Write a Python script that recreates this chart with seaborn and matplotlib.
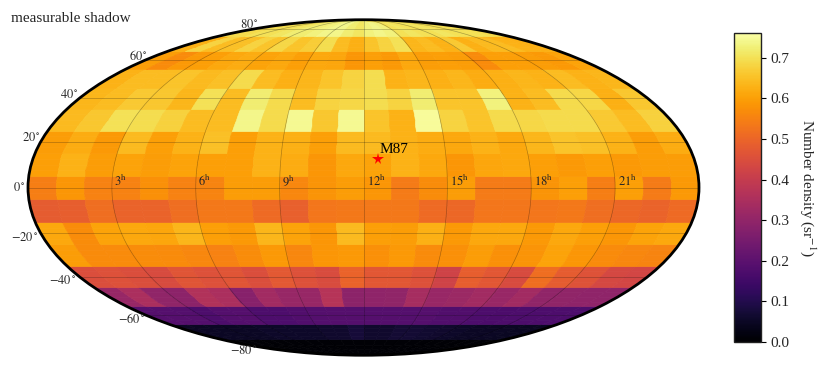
import numpy as np
import seaborn as sns
import matplotlib
matplotlib.use("Agg")
import matplotlib.pyplot as plt

# RA bins are one hour wide, declination bins in degrees (south to north)
ra_edges_h = list(range(25))
dec_edges = [-90, -75, -65, -55, -45, -35, -25, -15, -5, 5, 15, 25, 35, 45, 55, 65, 75, 90]

# number density per declination band, RA 0h..23h
dec_m82 = [.008, .008, .008, .008, .008, .008, .008, .008, .008, .008, .008, .008, .008, .008, .008, .008, .008, .008, .008, .008, .008, .008, .008, .008]
dec_m70 = [.05, .05, .05, .05, .05, .055, .055, .055, .055, .06, .06, .075, .06, .06, .07, .07, .065, .06, .055, .05, .05, .05, .045, .045]
dec_m60 = [.19, .19, .185, .175, .185, .19, .175, .175, .18, .185, .19, .19, .19, .19, .185, .19, .18, .18, .175, .17, .175, .175, .175, .175]
dec_m50 = [.31, .35, .30, .29, .36, .35, .28, .33, .31, .31, .37, .29, .295, .30, .34, .315, .32, .33, .315, .33, .30, .30, .295, .295]
dec_m40 = [.45, .455, .45, .44, .465, .455, .465, .45, .475, .455, .445, .495, .47, .47, .455, .42, .485, .47, .44, .515, .48, .46, .435, .43]
dec_m30 = [.595, .565, .565, .57, .565, .56, .55, .57, .59, .56, .585, .59, .575, .59, .565, .575, .595, .575, .58, .605, .585, .565, .56, .555]
dec_m20 = [.615, .57, .605, .615, .61, .635, .60, .59, .635, .605, .585, .64, .60, .595, .625, .59, .615, .615, .59, .615, .60, .585, .605, .615]
dec_m10 = [.48, .485, .515, .495, .495, .515, .535, .535, .51, .49, .53, .535, .535, .535, .51, .505, .53, .53, .53, .535, .515, .505, .495, .51]
dec_p00 = [.545, .585, .55, .55, .575, .55, .555, .595, .595, .56, .58, .595, .585, .54, .57, .595, .54, .54, .58, .60, .545, .60, .54, .59]
dec_p10 = [.60, .63, .595, .605, .595, .605, .60, .60, .63, .62, .585, .615, .605, .63, .615, .585, .61, .615, .60, .59, .60, .59, .595, .595]
dec_p20 = [.595, .62, .59, .64, .60, .63, .65, .60, .63, .625, .60, .64, .64, .63, .62, .615, .63, .615, .635, .655, .65, .63, .595, .62]
dec_p30 = [.64, .66, .70, .695, .675, .645, .645, .74, .69, .745, .66, .745, .655, .63, .75, .68, .655, .69, .685, .69, .69, .665, .645, .675]
dec_p40 = [.635, .645, .665, .66, .635, .70, .645, .72, .69, .645, .68, .685, .695, .68, .72, .655, .655, .73, .63, .645, .69, .685, .625, .66]
dec_p50 = [.63, .645, .645, .655, .64, .65, .69, .645, .625, .635, .655, .68, .695, .63, .635, .625, .635, .62, .625, .635, .63, .645, .63, .635]
dec_p60 = [.595, .565, .59, .60, .615, .62, .605, .615, .60, .615, .61, .585, .60, .59, .615, .595, .60, .595, .565, .60, .60, .595, .59, .605]
dec_p70 = [.625, .68, .645, .65, .68, .655, .685, .655, .67, .695, .645, .625, .655, .68, .70, .635, .645, .63, .665, .625, .64, .645, .63, .625]
dec_p82 = [.69, .69, .70, .70, .71, .72, .72, .73, .74, .74, .72, .71, .73, .74, .73, .70, .71, .70, .70, .71, .70, .70, .70, .69]

density = np.array([dec_m82, dec_m70, dec_m60, dec_m50, dec_m40, dec_m30, dec_m20, dec_m10, dec_p00,
                    dec_p10, dec_p20, dec_p30, dec_p40, dec_p50, dec_p60, dec_p70, dec_p82])

ra_ticks_h = [3, 6, 9, 12, 15, 18, 21]
dec_ticks = [-80, -60, -40, -20, 0, 20, 40, 60, 80]
cbar_ticks = [0.0, 0.1, 0.2, 0.3, 0.4, 0.5, 0.6, 0.7]
m87_ra_h = 12.51
m87_dec = 12.39

sns.set_style("white")
plt.rcParams['font.family'] = ['Liberation Serif', 'DejaVu Serif']
plt.rcParams['mathtext.fontset'] = 'stix'

cmap = sns.color_palette("inferno", as_cmap=True)


def ra_to_lon(hours):
    return np.radians((np.asarray(hours, dtype=float) - 12.0) * 15.0)


fig = plt.figure(figsize=(8.3, 3.75), dpi=100)
ax = fig.add_axes([28 / 830, 19 / 375, 671 / 830, 337 / 375], projection='mollweide')

# split each band in latitude so the cell sides follow the curved meridians
n_sub = 4
fine_dec = np.concatenate([np.linspace(a, b, n_sub, endpoint=False) for a, b in zip(dec_edges[:-1], dec_edges[1:])] + [[dec_edges[-1]]])
fine_density = np.repeat(density, n_sub, axis=0)

mesh = ax.pcolormesh(ra_to_lon(ra_edges_h), np.radians(fine_dec), fine_density,
                     cmap=cmap, vmin=0, vmax=0.761, shading='flat', antialiased=True)
mesh.set_edgecolor('face')
mesh.set_linewidth(0.5)

ax.set_axisbelow(False)
ax.set_longitude_grid_ends(90)
ax.set_xticks(ra_to_lon(ra_ticks_h))
ax.set_xticklabels([])
ax.set_yticks(np.radians(dec_ticks))
ax.set_yticklabels([])
ax.grid(True, color='black', alpha=0.3, linewidth=0.5)
ax.spines['geo'].set_linewidth(2)
ax.spines['geo'].set_edgecolor('black')

# RA labels sit just right of their meridian, above the equator
for h in ra_ticks_h:
    ax.annotate(rf'${h}^{{\rm h}}$', (ra_to_lon(h), 0), xytext=(2 if h < 10 else 3, 2),
                textcoords='offset pixels', ha='left', va='baseline', fontsize=9)

# latitude labels hug the outline, pushed a little away from the equator
label_dx = [3, -1, -3, -2, -3, 0, 0, 1, 5]
for d, dx in zip(dec_ticks, label_dx):
    ax.annotate(rf'${d}^\circ$', (-np.pi, np.radians(d)), xytext=(dx, 4 * np.sign(d)),
                textcoords='offset pixels', ha='right', va='center', fontsize=9, annotation_clip=False)

ax.plot(ra_to_lon(m87_ra_h), np.radians(m87_dec), marker='*', color='red', markersize=8.5,
        markeredgewidth=0, linestyle='none')
ax.annotate('M87', (ra_to_lon(m87_ra_h), np.radians(m87_dec)), xytext=(2, 6),
            textcoords='offset pixels', fontsize=11, color='black')

fig.text(11 / 830, 1 - 18.5 / 375, 'measurable shadow', fontsize=11, va='center', ha='left')

cax = fig.add_axes([734 / 830, 33 / 375, 27 / 830, 309 / 375])
cbar = fig.colorbar(mesh, cax=cax, ticks=cbar_ticks)
cbar.ax.set_yticklabels([f'{t:.1f}' for t in cbar_ticks], fontsize=11)
cbar.ax.tick_params(length=3.5, width=0.8, color='black', right=True)
cbar.outline.set_linewidth(1)
cbar.outline.set_edgecolor('#222222')
cbar.set_label(r'Number density (sr$^{-1}$)', rotation=270, fontsize=11, labelpad=20)

fig.savefig('out.png', dpi=100)
